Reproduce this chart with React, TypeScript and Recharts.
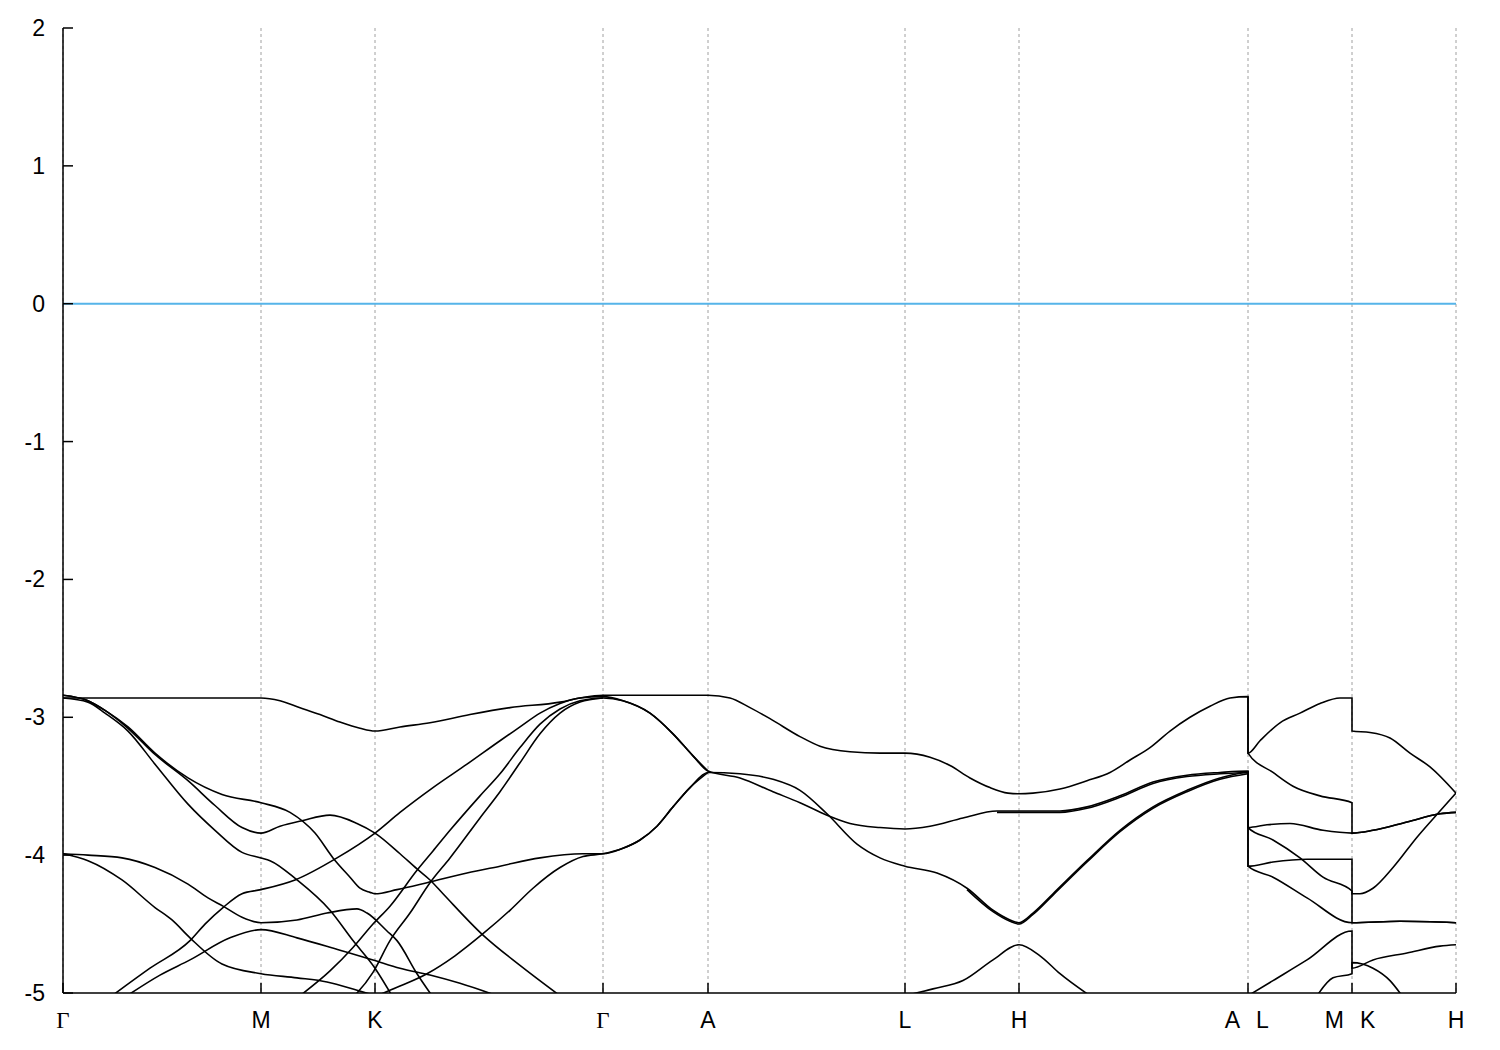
import React from 'react';
import { LineChart, Line, XAxis, YAxis, CartesianGrid, ReferenceLine } from 'recharts';

type Pt = [number, number];

// k-path positions of the high-symmetry points and their labels
const kTicks = [0, 198, 312, 540, 645, 842, 956, 1185, 1289, 1393];
const kLabels = ['Γ', 'M', 'K', 'Γ', 'A', 'L', 'H', 'A|L', 'M|K', 'H'];
const eTicks = [-5, -4, -3, -2, -1, 0, 1, 2];
const fermiLevel = 0;

// bands, [k, E]
const band01: Pt[] = [
  [0, -2.86], [57, -2.86], [117, -2.86], [198, -2.86],
  [217, -2.88], [237, -2.93], [257, -2.98], [277, -3.035], [297, -3.08], [312, -3.1],
  [337, -3.07], [367, -3.04], [407, -2.98], [447, -2.93], [497, -2.89], [517, -2.86], [540, -2.84],
  [587, -2.84], [645, -2.84],
  [667, -2.86], [687, -2.93], [707, -3.01], [737, -3.14], [757, -3.21], [787, -3.25], [817, -3.26], [842, -3.26],
  [867, -3.29], [887, -3.35], [907, -3.44], [927, -3.51], [945, -3.55], [956, -3.555],
  [970, -3.55], [997, -3.52], [1024, -3.46], [1047, -3.4], [1067, -3.31], [1087, -3.22], [1107, -3.1],
  [1127, -3.0], [1147, -2.92], [1167, -2.86], [1185, -2.85],
  [1185, -3.26], [1197, -3.17], [1217, -3.04], [1237, -2.97], [1257, -2.9], [1277, -2.86], [1289, -2.86],
  [1289, -3.1], [1307, -3.11], [1327, -3.15], [1347, -3.26], [1367, -3.36], [1393, -3.55],
];
const band02: Pt[] = [
  [0, -2.84], [25, -2.88], [42, -2.95], [65, -3.07], [92, -3.26], [125, -3.44], [159, -3.56], [198, -3.62],
  [227, -3.69], [252, -3.84], [270, -4.02], [287, -4.16], [297, -4.24], [307, -4.27], [312, -4.28],
  [334, -4.25], [364, -4.2], [404, -4.13], [437, -4.08], [477, -4.02], [520, -3.99], [540, -3.99],
  [560, -3.95], [577, -3.89], [594, -3.79], [610, -3.65], [627, -3.51], [645, -3.4],
  [677, -3.41], [710, -3.45], [737, -3.53], [764, -3.7], [794, -3.92], [817, -4.02], [842, -4.08],
  [874, -4.13], [904, -4.24], [930, -4.4], [947, -4.47], [956, -4.49],
  [970, -4.42], [990, -4.28], [1024, -4.04], [1057, -3.82], [1090, -3.65], [1124, -3.53], [1157, -3.44], [1185, -3.4],
  [1185, -4.08], [1210, -4.05], [1244, -4.03], [1289, -4.03],
  [1289, -4.49], [1337, -4.48], [1393, -4.49],
];
const band03: Pt[] = [
  [0, -2.84], [25, -2.88], [42, -2.95], [65, -3.08], [92, -3.27], [125, -3.46], [152, -3.64], [179, -3.8], [198, -3.84],
  [217, -3.79], [239, -3.75], [267, -3.71], [294, -3.77], [312, -3.84], [337, -3.99], [354, -4.1], [367, -4.18],
  [380, -4.28], [420, -4.58], [457, -4.8], [497, -5.02],
];
const band04: Pt[] = [
  [0, -2.86], [25, -2.89], [42, -2.97], [65, -3.1], [92, -3.34], [125, -3.63], [152, -3.82], [179, -3.98], [198, -4.02],
  [207, -4.04], [234, -4.18], [267, -4.4], [290, -4.62], [312, -4.82], [329, -5.02],
];
const band05: Pt[] = [
  [0, -3.99], [25, -4.0], [59, -4.02], [92, -4.09], [125, -4.21], [145, -4.31], [160, -4.37], [179, -4.45], [198, -4.49],
  [234, -4.47], [264, -4.42], [294, -4.39], [304, -4.42], [324, -4.55], [334, -4.62], [354, -4.86], [369, -5.02],
];
const band06: Pt[] = [
  [0, -3.99], [25, -4.04], [59, -4.18], [92, -4.38], [109, -4.47], [127, -4.6], [159, -4.79], [198, -4.86],
  [234, -4.89], [264, -4.92], [294, -4.98], [317, -5.03],
];
const band07: Pt[] = [
  [49, -5.02], [87, -4.82], [127, -4.62], [142, -4.5], [160, -4.38], [179, -4.28], [198, -4.25],
  [232, -4.18], [274, -4.02], [312, -3.84], [337, -3.69], [370, -3.51], [404, -3.34], [437, -3.17], [457, -3.07],
  [477, -2.97], [497, -2.9], [517, -2.86], [540, -2.85],
  [560, -2.88], [587, -2.97], [610, -3.12], [630, -3.28], [645, -3.39],
  [677, -3.44], [710, -3.54], [737, -3.62], [764, -3.71], [787, -3.77], [817, -3.8], [842, -3.81],
  [867, -3.79], [900, -3.73], [934, -3.68], [956, -3.68],
  [997, -3.68], [1024, -3.65], [1057, -3.57], [1090, -3.47], [1124, -3.42], [1157, -3.4], [1185, -3.39],
  [1185, -3.8], [1210, -3.89], [1237, -4.02], [1260, -4.16], [1289, -4.26],
  [1289, -4.28], [1297, -4.28], [1310, -4.24], [1330, -4.09], [1354, -3.87], [1377, -3.68], [1393, -3.55],
];
const band08: Pt[] = [
  [64, -5.02], [97, -4.87], [127, -4.76], [167, -4.6], [198, -4.54], [234, -4.6], [277, -4.69], [310, -4.76],
  [337, -4.82], [367, -4.87], [397, -4.93], [434, -5.02],
];
const band09: Pt[] = [
  [314, -5.02], [337, -4.95], [364, -4.86], [392, -4.73], [420, -4.57], [447, -4.4], [470, -4.24], [497, -4.09],
  [520, -4.01], [540, -3.99],
  [560, -3.95], [577, -3.89], [594, -3.79], [610, -3.65], [627, -3.51], [645, -3.4],
];
const band10: Pt[] = [
  [237, -5.02], [267, -4.84], [290, -4.67], [310, -4.5], [327, -4.37], [354, -4.11], [370, -3.97], [387, -3.82],
  [417, -3.57], [437, -3.41], [457, -3.22], [477, -3.05], [497, -2.94], [517, -2.88], [540, -2.86],
  [560, -2.88], [587, -2.97], [610, -3.12], [630, -3.28], [645, -3.39],
];
const band11: Pt[] = [
  [287, -5.05], [294, -5.0], [310, -4.85], [327, -4.62], [347, -4.42], [367, -4.2], [387, -4.02], [417, -3.73],
  [437, -3.54], [457, -3.33], [477, -3.12], [497, -2.97], [517, -2.89], [540, -2.86],
];
const band12: Pt[] = [
  [842, -5.02], [870, -4.97], [900, -4.91], [930, -4.76], [956, -4.65], [977, -4.73], [997, -4.86], [1027, -5.02],
];
const band13: Pt[] = [
  [1185, -2.85], [1185, -3.26], [1210, -3.4], [1230, -3.5], [1257, -3.57], [1289, -3.62],
  [1289, -3.84], [1310, -3.82], [1344, -3.76], [1377, -3.7], [1393, -3.69],
];
const band14: Pt[] = [
  [1185, -3.39], [1185, -3.8], [1204, -3.78], [1227, -3.77], [1260, -3.82], [1289, -3.84],
  [1310, -3.82], [1344, -3.76], [1377, -3.7], [1393, -3.69],
];
const band15: Pt[] = [
  [1185, -3.39], [1185, -4.08], [1210, -4.16], [1244, -4.31], [1289, -4.49], [1337, -4.48], [1393, -4.49],
];
const band16: Pt[] = [
  [1185, -5.02], [1210, -4.91], [1244, -4.76], [1289, -4.55],
  [1289, -4.82], [1310, -4.76], [1344, -4.71], [1377, -4.66], [1393, -4.65],
];
const band17: Pt[] = [
  [1254, -5.02], [1270, -4.89], [1289, -4.86], [1289, -4.78], [1310, -4.82], [1327, -4.91], [1339, -5.02],
];
// near-degenerate partners that make the H-A branches look heavier
const band18: Pt[] = [
  [904, -4.25], [930, -4.41], [947, -4.48], [956, -4.5], [970, -4.43], [990, -4.29], [1024, -4.05],
  [1057, -3.83], [1090, -3.66], [1124, -3.54], [1157, -3.45], [1185, -3.41],
];
const band19: Pt[] = [
  [934, -3.69], [956, -3.69], [997, -3.69], [1024, -3.66], [1057, -3.58], [1090, -3.48], [1124, -3.43],
  [1157, -3.41], [1185, -3.4],
];

const bands = [
  band01, band02, band03, band04, band05, band06, band07, band08, band09, band10,
  band11, band12, band13, band14, band15, band16, band17, band18, band19,
];

const SANS = "'Liberation Sans', Arial, sans-serif";
const SERIF = "'Liberation Serif', 'Times New Roman', serif";
const FONT_SIZE = 23;
const TICK_LEN = 10;
const X_LABEL_GAP = 27;
const Y_LABEL_GAP = 18;

function BottomTick(props: any) {
  const { x, y, payload } = props;
  const label = kLabels[kTicks.indexOf(payload.value)] ?? '';
  const axisY = y - X_LABEL_GAP;
  const parts = label.split('|');
  const textProps = { y, fontSize: FONT_SIZE, fill: '#000', dominantBaseline: 'central' as const };
  return (
    <g>
      <line x1={x} x2={x} y1={axisY} y2={axisY - TICK_LEN} stroke="#000" strokeWidth={1.5} />
      {parts.length === 2 ? (
        <>
          <text {...textProps} x={x - 8} textAnchor="end" fontFamily={SANS}>{parts[0]}</text>
          <text {...textProps} x={x + 8} textAnchor="start" fontFamily={SANS}>{parts[1]}</text>
        </>
      ) : (
        <text {...textProps} x={x} textAnchor="middle" fontFamily={label === 'Γ' ? SERIF : SANS}>
          {label}
        </text>
      )}
    </g>
  );
}

function TopTick(props: any) {
  const { x, y } = props;
  return <line x1={x} x2={x} y1={y} y2={y + TICK_LEN} stroke="#000" strokeWidth={1.5} />;
}

function LeftTick(props: any) {
  const { x, y, payload } = props;
  const axisX = x + Y_LABEL_GAP;
  return (
    <g>
      <line x1={axisX} x2={axisX + TICK_LEN} y1={y} y2={y} stroke="#000" strokeWidth={1.5} />
      <text x={x} y={y} textAnchor="end" dominantBaseline="central" fontSize={FONT_SIZE} fontFamily={SANS} fill="#000">
        {payload.value}
      </text>
    </g>
  );
}

function RightTick(props: any) {
  const { x, y } = props;
  return <line x1={x} x2={x - TICK_LEN} y1={y} y2={y} stroke="#000" strokeWidth={1.5} />;
}

export default function App() {
  return (
    <div style={{ width: 1500, height: 1050, background: '#fff' }}>
      <style>{'body { margin: 0; }'}</style>
      <LineChart width={1500} height={1050} margin={{ top: 28, right: 44, bottom: 0, left: 0 }}>
        <CartesianGrid horizontal={false} stroke="#a0a0a0" strokeDasharray="3 3" />
        <XAxis
          dataKey="k"
          type="number"
          domain={[0, 1393]}
          ticks={kTicks}
          interval={0}
          allowDataOverflow
          height={57}
          tickSize={0}
          tickMargin={X_LABEL_GAP}
          tickLine={false}
          axisLine={{ stroke: '#000', strokeWidth: 1.5 }}
          tick={<BottomTick />}
        />
        <XAxis
          xAxisId="top"
          orientation="top"
          dataKey="k"
          type="number"
          domain={[0, 1393]}
          ticks={kTicks}
          interval={0}
          allowDataOverflow
          height={0}
          tickSize={0}
          tickMargin={0}
          tickLine={false}
          axisLine={{ stroke: '#000', strokeWidth: 1.5 }}
          tick={<TopTick />}
        />
        <YAxis
          type="number"
          domain={[-5, 2]}
          ticks={eTicks}
          interval={0}
          allowDataOverflow
          width={63}
          tickSize={0}
          tickMargin={Y_LABEL_GAP}
          tickLine={false}
          axisLine={{ stroke: '#000', strokeWidth: 1.5 }}
          tick={<LeftTick />}
        />
        <YAxis
          yAxisId="right"
          orientation="right"
          type="number"
          domain={[-5, 2]}
          ticks={eTicks}
          interval={0}
          allowDataOverflow
          width={0}
          tickSize={0}
          tickMargin={0}
          tickLine={false}
          axisLine={{ stroke: '#000', strokeWidth: 1.5 }}
          tick={<RightTick />}
        />
        <ReferenceLine y={fermiLevel} stroke="#56b4e9" strokeWidth={2} />
        {bands.map((band, i) => (
          <Line
            key={i}
            data={band.map(([k, e]) => ({ k, e }))}
            dataKey="e"
            type="monotone"
            stroke="#000"
            strokeWidth={1.6}
            dot={false}
            activeDot={false}
            isAnimationActive={false}
          />
        ))}
      </LineChart>
    </div>
  );
}
